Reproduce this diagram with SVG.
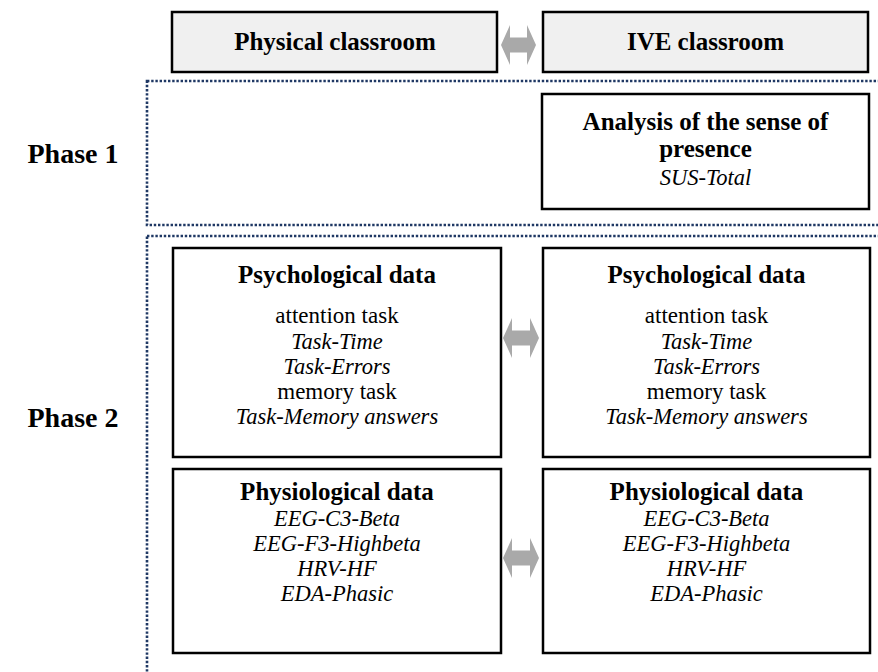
<svg xmlns="http://www.w3.org/2000/svg" width="878" height="672" viewBox="0 0 878 672">
<defs>
<style>
.box{fill:#ffffff;stroke:#000000;stroke-width:2.5}
.head{fill:#f0f0f0;stroke:#000000;stroke-width:2.5}
.phase{fill:none;stroke:#1f3864;stroke-width:2.6;stroke-dasharray:2.4 1.8}
.arr{fill:#a9a9a9;stroke:none}
.b{font-weight:bold;font-size:25px}
.r{font-size:23px}
.i{font-style:italic;font-size:22.5px}
.ph{font-weight:bold;font-size:28px}
</style>
</defs>
<rect width="878" height="672" fill="#ffffff"/>
<g font-family="Liberation Serif" text-anchor="middle" fill="#000000">
<g id="phase1-region">
<rect class="phase" x="147" y="81" width="760" height="144"/>
<text class="ph" x="73" y="163">Phase 1</text>
</g>
<g id="phase2-region">
<rect class="phase" x="147" y="236" width="760" height="470"/>
<text class="ph" x="73" y="427">Phase 2</text>
</g>
<g id="physical-classroom">
<rect class="head" x="172" y="12" width="325" height="60"/>
<text class="b" x="335" y="50">Physical classroom</text>
</g>
<g id="ive-classroom">
<rect class="head" x="543" y="12" width="325" height="60"/>
<text class="b" x="705.5" y="50">IVE classroom</text>
</g>
<g id="presence">
<rect class="box" x="542" y="94" width="327" height="115"/>
<text class="b" x="705.5" y="130">Analysis of the sense of</text>
<text class="b" x="705.5" y="157">presence</text>
<text class="i" x="705.5" y="185">SUS-Total</text>
</g>
<g id="psych-physical">
<rect class="box" x="173" y="248" width="328" height="209"/>
<text class="b" x="337" y="283">Psychological data</text>
<text class="r" x="337" y="323">attention task</text>
<text class="i" x="337" y="348.5">Task-Time</text>
<text class="i" x="337" y="373.5">Task-Errors</text>
<text class="r" x="337" y="399">memory task</text>
<text class="i" x="337" y="424.2">Task-Memory answers</text>
</g>
<g id="psych-ive">
<rect class="box" x="543" y="248" width="327" height="209"/>
<text class="b" x="706.5" y="283">Psychological data</text>
<text class="r" x="706.5" y="323">attention task</text>
<text class="i" x="706.5" y="348.5">Task-Time</text>
<text class="i" x="706.5" y="373.5">Task-Errors</text>
<text class="r" x="706.5" y="399">memory task</text>
<text class="i" x="706.5" y="424.2">Task-Memory answers</text>
</g>
<g id="physio-physical">
<rect class="box" x="173" y="469" width="328" height="184"/>
<text class="b" x="337" y="500">Physiological data</text>
<text class="i" x="337" y="526">EEG-C3-Beta</text>
<text class="i" x="337" y="551">EEG-F3-Highbeta</text>
<text class="i" x="337" y="576">HRV-HF</text>
<text class="i" x="337" y="601">EDA-Phasic</text>
</g>
<g id="physio-ive">
<rect class="box" x="543" y="469" width="327" height="184"/>
<text class="b" x="706.5" y="500">Physiological data</text>
<text class="i" x="706.5" y="526">EEG-C3-Beta</text>
<text class="i" x="706.5" y="551">EEG-F3-Highbeta</text>
<text class="i" x="706.5" y="576">HRV-HF</text>
<text class="i" x="706.5" y="601">EDA-Phasic</text>
</g>
</g>
<g id="connectors">
<polygon class="arr" points="501,45 510,25 510,37.5 527,37.5 527,25 536,45 527,65 527,52.5 510,52.5 510,65"/>
<polygon class="arr" points="503,338 512,318 512,330.5 530,330.5 530,318 539,338 530,358 530,345.5 512,345.5 512,358"/>
<polygon class="arr" points="503,558 512,538 512,550.5 530,550.5 530,538 539,558 530,578 530,565.5 512,565.5 512,578"/>
</g>
</svg>
